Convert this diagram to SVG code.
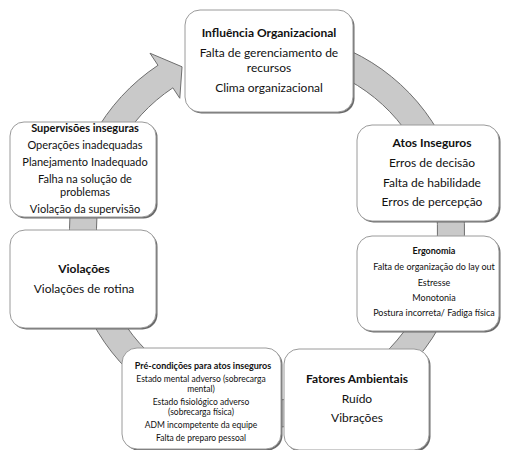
<svg xmlns="http://www.w3.org/2000/svg" width="506" height="450" viewBox="0 0 506 450">
<style>
.sh{fill:#6a6a6a;}
.box{fill:#ffffff;stroke:#9a9a9a;stroke-width:1;}
text{font-family:Lato,"Liberation Sans",sans-serif;fill:#111;text-anchor:middle;}
.t{font-size:12px;font-weight:bold;}
.r{font-size:12px;}
.ts{font-size:11px;font-weight:bold;}
.rs{font-size:11px;}
.tx{font-size:9px;font-weight:bold;}
.rx{font-size:9px;}
.ry{font-size:8.5px;}
.band{fill:#c9c9c9;stroke:#6e6e6e;stroke-width:1;}
</style>
<rect width="506" height="450" fill="#ffffff"/>
<g id="connectors">
<path class="band" d="M 232.70 35.50 A 197.5 197.5 0 1 1 157.99 65.31 L 149.99 53.22 L 182.04 66.79 L 179.79 98.25 L 172.89 87.82 A 170.5 170.5 0 1 0 237.39 62.09 Z"/>
</g>
<g id="influencia">
<rect class="sh" x="186.5" y="11.5" width="168" height="102" rx="15"/>
<rect class="box" x="185" y="10" width="168" height="102" rx="15"/>
<text class="t" x="269" y="37">Influência Organizacional</text>
<text class="r" x="269" y="57">Falta de gerenciamento de</text>
<text class="r" x="269" y="72">recursos</text>
<text class="r" x="269" y="92">Clima organizacional</text>
</g>
<g id="supervisoes">
<rect class="sh" x="11.5" y="123.5" width="146" height="95" rx="14"/>
<rect class="box" x="10" y="122" width="146" height="95" rx="14"/>
<text class="ts" x="85" y="132">Supervisões inseguras</text>
<text class="rs" x="85" y="149">Operações inadequadas</text>
<text class="rs" x="85" y="166">Planejamento Inadequado</text>
<text class="rs" x="85" y="183">Falha na solução de</text>
<text class="rs" x="85" y="196">problemas</text>
<text class="rs" x="85" y="213">Violação da supervisão</text>
</g>
<g id="atos">
<rect class="sh" x="358.5" y="126.5" width="142" height="96" rx="15"/>
<rect class="box" x="357" y="125" width="142" height="96" rx="15"/>
<text class="t" x="432" y="147">Atos Inseguros</text>
<text class="r" x="432" y="167">Erros de decisão</text>
<text class="r" x="432" y="187">Falta de habilidade</text>
<text class="r" x="432" y="206">Erros de percepção</text>
</g>
<g id="violacoes">
<rect class="sh" x="11.5" y="231.5" width="146" height="98" rx="15"/>
<rect class="box" x="10" y="230" width="146" height="98" rx="15"/>
<text class="t" x="84" y="273">Violações</text>
<text class="r" x="84" y="293">Violações de rotina</text>
</g>
<g id="ergonomia">
<rect class="sh" x="358.5" y="237.5" width="142" height="95" rx="15"/>
<rect class="box" x="357" y="236" width="142" height="95" rx="15"/>
<text class="tx" x="434" y="254">Ergonomia</text>
<text class="rx" x="434" y="270">Falta de organização do lay out</text>
<text class="rx" x="434" y="285.5">Estresse</text>
<text class="rx" x="434" y="300.5">Monotonia</text>
<text class="rx" x="434" y="316">Postura incorreta/ Fadiga física</text>
</g>
<g id="precondicoes">
<rect class="sh" x="123.5" y="349.5" width="159" height="101" rx="15"/>
<rect class="box" x="122" y="348" width="159" height="101" rx="15"/>
<text class="tx" x="203" y="369">Pré-condições para atos inseguros</text>
<text class="ry" x="201" y="382">Estado mental adverso (sobrecarga</text>
<text class="ry" x="201" y="392">mental)</text>
<text class="ry" x="201" y="405">Estado fisiológico adverso</text>
<text class="ry" x="201" y="415">(sobrecarga física)</text>
<text class="ry" x="201" y="428">ADM incompetente da equipe</text>
<text class="ry" x="201" y="441">Falta de preparo pessoal</text>
</g>
<g id="fatores">
<rect class="sh" x="285.5" y="350.5" width="145" height="101" rx="15"/>
<rect class="box" x="284" y="349" width="145" height="101" rx="15"/>
<text class="t" x="357" y="383">Fatores Ambientais</text>
<text class="r" x="357" y="403">Ruído</text>
<text class="r" x="357" y="422">Vibrações</text>
</g>
</svg>
